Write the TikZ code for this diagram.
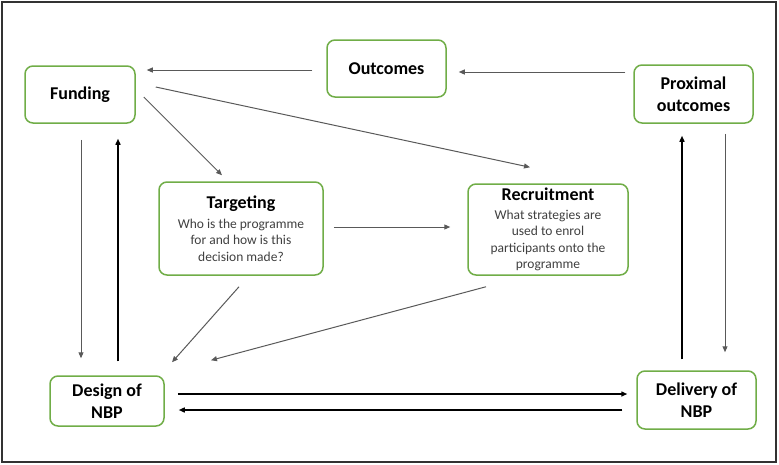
\documentclass[tikz,border=0pt]{standalone}
\usepackage{fontspec}
\setmainfont{Carlito}
\usetikzlibrary{arrows.meta}
\definecolor{BoxGreen}{RGB}{112,173,71}
\definecolor{BodyGrey}{RGB}{64,64,64}
\definecolor{FrameGrey}{RGB}{50,50,50}
\tikzset{box/.style={draw=BoxGreen,line width=1.5pt,rounded corners=8pt,fill=white,align=center,inner sep=0pt,font=\fontsize{18}{22}\selectfont\bfseries},
descbox/.style={box,font=\fontsize{13.5}{16.5}\selectfont\color{BodyGrey}},
link/.style={draw=black!65,line width=1pt,-{Triangle[length=6pt,width=5pt]}},
heavy/.style={link,draw=black,line width=1.4pt}}
\newcommand{\headline}[1]{{\fontsize{18}{22}\selectfont\bfseries\color{black}#1}}

\begin{document}
\begin{tikzpicture}[x=1pt,y=-1pt]
\useasboundingbox (0,0) rectangle (779,464);
\draw[FrameGrey,line width=2pt] (1.5,1.5) rectangle (776,462);
% boxes
\node[box,minimum width=110pt,minimum height=57pt] (funding) at (80,94.5) {Funding};
\node[box,minimum width=119pt,minimum height=57pt] (outcomes) at (386.5,68.5) {Outcomes};
\node[box,minimum width=119pt,minimum height=58pt] (proximal) at (693.5,94) {Proximal\\outcomes};
\node[descbox,minimum width=164pt,minimum height=93pt] (targeting) at (241,228.5) {\headline{Targeting}\\[3.5pt]Who is the programme\\for and how is this\\decision made?};
\node[descbox,minimum width=160pt,minimum height=91pt] (recruit) at (548,229.5) {\headline{Recruitment}\\[2.5pt]What strategies are\\used to enrol\\participants onto the\\programme};
\node[box,minimum width=114pt,minimum height=50pt] (design) at (107,401) {Design of\\NBP};
\node[box,minimum width=119pt,minimum height=58pt] (delivery) at (696.5,400) {Delivery of\\NBP};
% links
\draw[link] ([shift={(-14,1.5)}]outcomes.west) -- ([shift={(11,-24.5)}]funding.east);
\draw[link] ([shift={(-8,-22)}]proximal.west) -- ([shift={(12,3.5)}]outcomes.east);
\draw[link] ([shift={(8,2.5)}]funding.east) -- ([shift={(-19,-6)}]targeting.north);
\draw[link] ([shift={(20,-7.5)}]funding.east) -- ([shift={(-18,-16)}]recruit.north);
\draw[link] ([shift={(1,16)}]funding.south) -- ([shift={(-26,-17)}]design.north);
\draw[heavy] ([shift={(11,-14)}]design.north) -- ([shift={(38,15)}]funding.south);
\draw[link] ([shift={(10,-1.5)}]targeting.east) -- ([shift={(-17,-2.5)}]recruit.west);
\draw[link] ([shift={(-2,11)}]targeting.south) -- ([shift={(65,-13)}]design.north);
\draw[link] ([shift={(-62,11)}]recruit.south) -- ([shift={(104,-15)}]design.north);
\draw[heavy] ([shift={(13,-7)}]design.east) -- ([shift={(-9,-6)}]delivery.west);
\draw[heavy] ([shift={(-14,10)}]delivery.west) -- ([shift={(14,9)}]design.east);
\draw[link] ([shift={(31.5,10)}]proximal.south) -- ([shift={(28.5,-18)}]delivery.north);
\draw[heavy] ([shift={(-14.5,-11)}]delivery.north) -- ([shift={(-11.5,12)}]proximal.south);
\end{tikzpicture}
\end{document}
